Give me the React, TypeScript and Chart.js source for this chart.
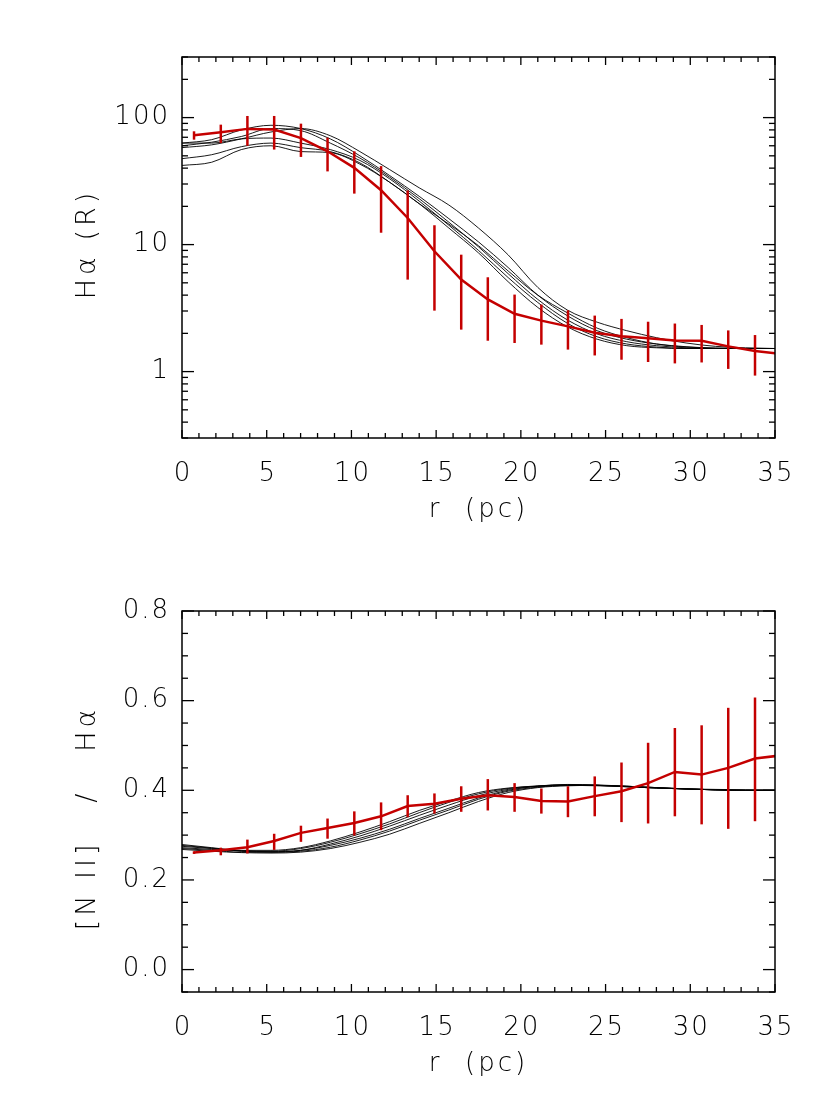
import React, { useEffect, useRef } from 'react';
import { Chart, registerables } from 'chart.js';
Chart.register(...registerables);

// ---------- data ----------
const redR = [0.71, 2.29, 3.86, 5.44, 7.02, 8.59, 10.17, 11.75, 13.32, 14.9, 16.48, 18.05, 19.63, 21.21, 22.78, 24.36, 25.94, 27.51, 29.09, 30.67, 32.24, 33.82, 35.4];

const haValues = [72.6, 76.6, 81.5, 80.5, 69, 54.3, 40.2, 26.8, 16.2, 8.86, 5.3, 3.7, 2.85, 2.52, 2.27, 2.02, 1.9, 1.83, 1.76, 1.75, 1.58, 1.45, 1.38];
const haLow = [67, 63, 60, 56, 49, 37.7, 25.2, 12.4, 5.3, 3.02, 2.14, 1.75, 1.68, 1.63, 1.49, 1.34, 1.24, 1.19, 1.16, 1.18, 1.05, 0.93];
const haHigh = [78, 88, 103, 103, 89.6, 69.5, 54.3, 41.5, 26.7, 14.2, 8.33, 5.53, 4.04, 3.37, 3.04, 2.76, 2.6, 2.47, 2.39, 2.33, 2.11, 1.94];

const niiValues = [0.261, 0.266, 0.273, 0.287, 0.305, 0.316, 0.327, 0.342, 0.365, 0.37, 0.381, 0.389, 0.385, 0.376, 0.375, 0.387, 0.398, 0.416, 0.441, 0.435, 0.45, 0.471, 0.478];
const niiLow = [0.258, 0.255, 0.259, 0.267, 0.285, 0.292, 0.299, 0.311, 0.34, 0.348, 0.352, 0.355, 0.352, 0.348, 0.34, 0.342, 0.329, 0.326, 0.342, 0.324, 0.314, 0.331];
const niiHigh = [0.264, 0.272, 0.29, 0.303, 0.321, 0.337, 0.353, 0.373, 0.389, 0.393, 0.409, 0.425, 0.416, 0.404, 0.409, 0.431, 0.462, 0.506, 0.539, 0.545, 0.584, 0.607];

const modelR = [0, 1.75, 3.5, 5.25, 7, 8.75, 10.5, 12.25, 14, 15.75, 17.5, 19.25, 21, 22.75, 24.5, 26.25, 28, 29.75, 31.5, 33.25, 35];

const haModel1 = [63, 67, 80, 87, 82, 68, 50, 35, 24, 16, 10.5, 6.6, 4.0, 2.75, 2.1, 1.8, 1.65, 1.57, 1.53, 1.52, 1.52];
const haModel2 = [58, 61, 68, 77, 82, 72, 54, 39, 28, 20.5, 13.5, 8.3, 4.6, 3.05, 2.45, 2.1, 1.85, 1.68, 1.58, 1.54, 1.52];
const haModel3 = [60, 64, 71, 82, 79, 63, 48, 34, 23, 15, 9.6, 5.9, 3.7, 2.55, 1.98, 1.72, 1.6, 1.54, 1.52, 1.52, 1.52];
const haModel4 = [63, 63, 68, 69, 63, 56, 46, 33, 22, 14.2, 9.0, 5.5, 3.5, 2.4, 1.88, 1.65, 1.56, 1.52, 1.52, 1.52, 1.52];
const haModel5 = [47.5, 51, 59, 63, 58, 54, 44, 31, 21, 13.5, 8.6, 5.1, 3.2, 2.25, 1.8, 1.6, 1.54, 1.52, 1.52, 1.52, 1.52];
const haModel6 = [42, 44.5, 56, 60, 54, 53, 43, 31, 21, 14.5, 9.8, 6.2, 4.0, 2.9, 2.2, 1.85, 1.65, 1.56, 1.53, 1.52, 1.52];

const niiModel1 = [0.279, 0.272, 0.266, 0.266, 0.272, 0.287, 0.307, 0.33, 0.355, 0.376, 0.395, 0.405, 0.409, 0.411, 0.41, 0.408, 0.405, 0.403, 0.402, 0.401, 0.4];
const niiModel2 = [0.275, 0.27, 0.265, 0.264, 0.27, 0.284, 0.303, 0.325, 0.35, 0.373, 0.392, 0.404, 0.41, 0.412, 0.411, 0.408, 0.405, 0.403, 0.401, 0.4, 0.4];
const niiModel3 = [0.272, 0.268, 0.265, 0.263, 0.266, 0.277, 0.293, 0.313, 0.337, 0.36, 0.383, 0.4, 0.409, 0.413, 0.412, 0.409, 0.406, 0.403, 0.401, 0.4, 0.4];
const niiModel4 = [0.27, 0.266, 0.262, 0.262, 0.264, 0.273, 0.289, 0.309, 0.333, 0.356, 0.38, 0.398, 0.407, 0.411, 0.411, 0.409, 0.406, 0.403, 0.401, 0.4, 0.4];
const niiModel5 = [0.268, 0.264, 0.261, 0.26, 0.262, 0.27, 0.284, 0.302, 0.326, 0.35, 0.375, 0.395, 0.406, 0.41, 0.411, 0.409, 0.406, 0.403, 0.401, 0.4, 0.4];
const niiModel6 = [0.277, 0.271, 0.264, 0.262, 0.266, 0.28, 0.298, 0.32, 0.344, 0.367, 0.388, 0.402, 0.409, 0.412, 0.411, 0.408, 0.405, 0.403, 0.401, 0.4, 0.4];

const xMajorTicks = [0, 5, 10, 15, 20, 25, 30, 35];
const haMajorTicks = [1, 10, 100];
const haTickLabels = ['1', '10', '100'];
const niiMajorTicks = [0, 0.2, 0.4, 0.6, 0.8];
const niiTickLabels = ['0.0', '0.2', '0.4', '0.6', '0.8'];

const RED = '#c40000';
const FONT = '200 26px "DejaVu Sans", "Liberation Sans", sans-serif';
const TITLE_FONT = '200 27px "DejaVu Sans", "Liberation Sans", sans-serif';

type PanelCfg = {
  models: number[][];
  values: number[];
  low: number[];
  high: number[];
  log: boolean;
  yMin: number;
  yMax: number;
  yMajor: number[];
  yLabels: string[];
  yMinor: number[];
  yTitle: string;
  yTitleCenter: number;
};

const logMinor: number[] = [];
[0.1, 1, 10, 100].forEach((d) => {
  for (let m = 2; m <= 9; m++) {
    const v = d * m;
    if (v >= 0.3 - 1e-9 && v <= 300 + 1e-9) logMinor.push(v);
  }
});
const linMinor: number[] = [];
for (let i = -1; i <= 16; i++) {
  const v = i * 0.05;
  if (i % 4 !== 0) linMinor.push(Math.round(v * 100) / 100);
}
const xMinor: number[] = [];
for (let i = 0; i <= 35; i++) if (i % 5 !== 0) xMinor.push(i);

function makePlugin(cfg: PanelCfg) {
  return {
    id: 'idlFrame',
    afterDatasetsDraw(chart: any) {
      const { ctx, chartArea: a, scales } = chart;
      const xs = scales.x;
      const ys = scales.y;
      // error bars
      ctx.save();
      ctx.beginPath();
      ctx.rect(a.left, a.top, a.right - a.left, a.bottom - a.top);
      ctx.clip();
      ctx.strokeStyle = RED;
      ctx.lineWidth = 2.5;
      cfg.low.forEach((lo, i) => {
        const px = xs.getPixelForValue(redR[i]);
        ctx.beginPath();
        ctx.moveTo(px, ys.getPixelForValue(lo));
        ctx.lineTo(px, ys.getPixelForValue(cfg.high[i]));
        ctx.stroke();
      });
      ctx.restore();

      ctx.save();
      ctx.strokeStyle = '#000';
      ctx.lineWidth = 1.5;
      ctx.strokeRect(a.left, a.top, a.right - a.left, a.bottom - a.top);
      ctx.lineWidth = 1.3;
      const line = (x1: number, y1: number, x2: number, y2: number) => {
        ctx.beginPath();
        ctx.moveTo(x1, y1);
        ctx.lineTo(x2, y2);
        ctx.stroke();
      };
      xMajorTicks.forEach((v) => {
        const px = xs.getPixelForValue(v);
        line(px, a.bottom, px, a.bottom - 8);
        line(px, a.top, px, a.top + 8);
      });
      xMinor.forEach((v) => {
        const px = xs.getPixelForValue(v);
        line(px, a.bottom, px, a.bottom - 5);
        line(px, a.top, px, a.top + 5);
      });
      cfg.yMajor.forEach((v) => {
        const py = ys.getPixelForValue(v);
        line(a.left, py, a.left + 12, py);
        line(a.right, py, a.right - 12, py);
      });
      cfg.yMinor.forEach((v) => {
        const py = ys.getPixelForValue(v);
        line(a.left, py, a.left + 6, py);
        line(a.right, py, a.right - 6, py);
      });

      ctx.fillStyle = '#000';
      ctx.font = FONT;
      (ctx as any).letterSpacing = '2px';
      ctx.textAlign = 'center';
      ctx.textBaseline = 'middle';
      xMajorTicks.forEach((v) => {
        ctx.fillText(String(v), xs.getPixelForValue(v) + 1, a.bottom + 36);
      });
      ctx.textAlign = 'right';
      cfg.yMajor.forEach((v, i) => {
        ctx.fillText(cfg.yLabels[i], a.left - 12, ys.getPixelForValue(v));
      });
      ctx.textAlign = 'center';
      (ctx as any).letterSpacing = '3px';
      ctx.fillText('r  (pc)', (a.left + a.right) / 2, a.bottom + 72);
      ctx.save();
      ctx.font = TITLE_FONT;
      ctx.translate(88, cfg.yTitleCenter);
      ctx.rotate(-Math.PI / 2);
      (ctx as any).letterSpacing = '4px';
      ctx.fillText(cfg.yTitle, 0, 0);
      ctx.restore();
      ctx.restore();
    },
  };
}

function Panel({ cfg, top, height, padTop, padBottom }: { cfg: PanelCfg; top: number; height: number; padTop: number; padBottom: number }) {
  const ref = useRef<HTMLCanvasElement | null>(null);
  useEffect(() => {
    if (!ref.current) return;
    const datasets: any[] = [
      {
        data: redR.map((r, i) => ({ x: r, y: cfg.values[i] })),
        borderColor: RED,
        borderWidth: 2.5,
        pointRadius: 0,
        tension: 0,
        fill: false,
      },
      ...cfg.models.map((m) => ({
        data: modelR.map((r, i) => ({ x: r, y: m[i] })),
        borderColor: '#000',
        borderWidth: 0.9,
        pointRadius: 0,
        cubicInterpolationMode: 'monotone',
        fill: false,
      })),
    ];
    const chart = new Chart(ref.current, {
      type: 'line',
      data: { datasets },
      options: {
        animation: false,
        responsive: false,
        devicePixelRatio: 1,
        layout: { padding: { left: 182, right: 55, top: padTop, bottom: padBottom } },
        plugins: { legend: { display: false }, tooltip: { enabled: false } },
        scales: {
          x: { type: 'linear', min: 0, max: 35, display: false },
          y: { type: cfg.log ? 'logarithmic' : 'linear', min: cfg.yMin, max: cfg.yMax, display: false },
        },
      } as any,
      plugins: [makePlugin(cfg)],
    });
    return () => chart.destroy();
  }, []);
  return (
    <canvas
      ref={ref}
      width={830}
      height={height}
      style={{ position: 'absolute', left: 0, top, width: 830, height }}
    />
  );
}

const topCfg: PanelCfg = {
  models: [haModel1, haModel2, haModel3, haModel4, haModel5, haModel6],
  values: haValues,
  low: haLow,
  high: haHigh,
  log: true,
  yMin: 0.3,
  yMax: 300,
  yMajor: haMajorTicks,
  yLabels: haTickLabels,
  yMinor: logMinor,
  yTitle: 'Hα (R)',
  yTitleCenter: 244,
};

const bottomCfg: PanelCfg = {
  models: [niiModel1, niiModel2, niiModel3, niiModel4, niiModel5, niiModel6],
  values: niiValues,
  low: niiLow,
  high: niiHigh,
  log: false,
  yMin: -0.05,
  yMax: 0.8,
  yMajor: niiMajorTicks,
  yLabels: niiTickLabels,
  yMinor: linMinor,
  yTitle: '[N II]   /   Hα',
  yTitleCenter: 818 - 553,
};

export default function App() {
  return (
    <div style={{ position: 'absolute', left: 0, top: 0, width: 830, height: 1107, background: '#fff' }}>
      <Panel cfg={topCfg} top={0} height={553} padTop={57} padBottom={553 - 438} />
      <Panel cfg={bottomCfg} top={553} height={554} padTop={611 - 553} padBottom={554 - (992 - 553)} />
    </div>
  );
}
